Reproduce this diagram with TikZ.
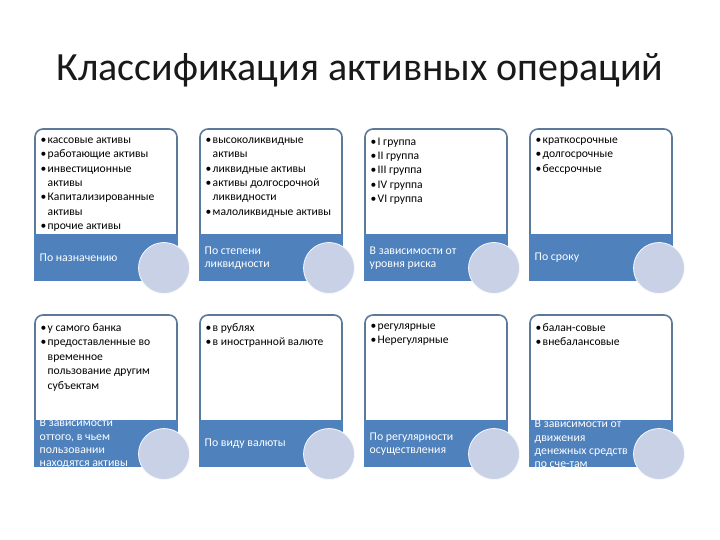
\documentclass[tikz,border=0pt]{standalone}
\usepackage{fontspec}
\setmainfont{Carlito}
\definecolor{cblue}{HTML}{4F81BD}
\definecolor{cborder}{HTML}{5B7A9A}
\definecolor{ccircle}{HTML}{C8D1E5}
\newcommand{\bl}{\makebox[7pt][l]{•}}
\newcommand{\ind}{\makebox[7pt][l]{}}
\tikzset{
  topbox/.style={draw=cborder, line width=1.6pt, fill=white, rounded corners=8pt},
  bluebox/.style={fill=cblue, draw=none},
  toptext/.style={anchor=north west, inner sep=0pt, align=left, font=\fontsize{11.6}{14.4}\selectfont, text=black},
  labeltext/.style={anchor=west, inner sep=0pt, align=left, font=\fontsize{11.8}{13.4}\selectfont, text=white},
  deco/.style={circle, fill=ccircle, draw=white!85!ccircle, line width=0.8pt, minimum size=51pt, inner sep=0pt},
  titletext/.style={font=\fontsize{40}{42}\selectfont, text=black!90, inner sep=0pt}
}
% #1 x-left, #2 y-top, #3 name, #4 top text, #5 label
\newcommand{\mycard}[5]{%
  \draw[topbox] (#1,#2+140) -- (#1,#2) -- (#1+142,#2) -- (#1+142,#2+140);
  \node[toptext] (#3t) at (#1+5.5,#2+8.5) {#4};
  \fill[bluebox] (#1-0.8,#2+105) rectangle (#1+142.8,#2+152);
  \node[labeltext] (#3l) at (#1+4.5,#2+129) {#5};
  \node[deco] (#3c) at (#1+129,#2+139) {};
}
\begin{document}
\begin{tikzpicture}[x=1pt,y=-1pt]
\useasboundingbox (0,0) rectangle (720,540);
\fill[white] (0,0) rectangle (720,540);
\node[titletext] (title) at (360,70) {Классификация активных операций};

\mycard{35}{129}{a}{\bl кассовые активы\\\bl работающие активы\\\bl инвестиционные\\\ind активы\\\bl Капитализированные\\\ind активы\\\bl прочие активы}{По назначению}
\mycard{200}{129}{b}{\bl высоколиквидные\\\ind активы\\\bl ликвидные активы\\\bl активы долгосрочной\\\ind ликвидности\\\bl малоликвидные активы}{По степени\\ликвидности}
\mycard{365}{129}{c}{\bl I группа\\\bl II группа\\\bl III группа\\\bl IV группа\\\bl VI группа}{В зависимости от\\уровня риска}
\mycard{530}{129}{d}{\bl краткосрочные\\\bl долгосрочные\\\bl бессрочные}{По сроку}

\mycard{35}{315}{e}{\bl у самого банка\\\bl предоставленные во\\\ind временное\\\ind пользование другим\\\ind субъектам}{В зависимости\\оттого, в чьем\\пользовании\\находятся активы}
\mycard{200}{315}{f}{\bl в рублях\\\bl в иностранной валюте}{По виду валюты}
\mycard{365}{315}{g}{\bl регулярные\\\bl Нерегулярные}{По регулярности\\осуществления}
\mycard{530}{315}{h}{\bl балан-совые\\\bl внебалансовые}{В зависимости от\\движения\\денежных средств\\по сче-там}
\end{tikzpicture}
\end{document}
